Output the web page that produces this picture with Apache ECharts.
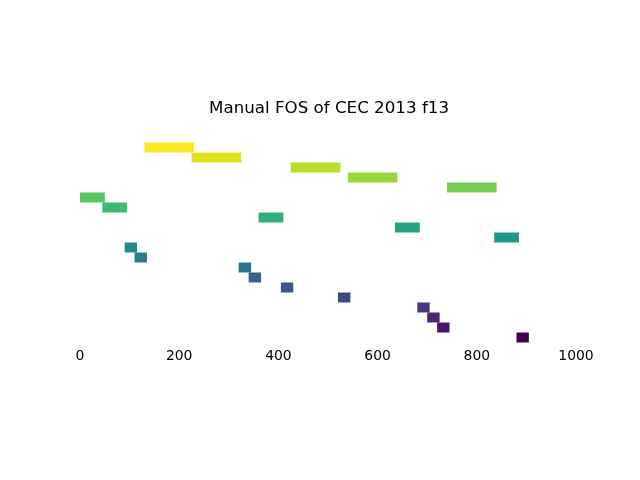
<!DOCTYPE html>
<html>
<head>
<meta charset="utf-8">
<script src="https://cdn.jsdelivr.net/npm/echarts@6/dist/echarts.min.js"></script>
<style>
  html, body { margin: 0; padding: 0; background: #fff; }
  #main { width: 640px; height: 480px; }
</style>
</head>
<body>
<div id="main"></div>
<script>
// subcomponents, sorted by size (100, 50, 25) then by start
var starts = [130, 225, 425, 540, 740, 0, 45, 360, 635, 835, 90, 110, 320, 340, 405, 520, 680, 700, 720, 880];
var sizes = [100, 100, 100, 100, 100, 50, 50, 50, 50, 50, 25, 25, 25, 25, 25, 25, 25, 25, 25, 25];
var xTicks = [0, 200, 400, 600, 800, 1000];

// viridis, top row to bottom row
var colors = ['#fde725', '#dde318', '#bade28', '#98d83e', '#73cf55', '#58c565', '#3dba74', '#2db07d',
  '#24a386', '#20978b', '#23898e', '#287c8e', '#2d718e', '#33638d', '#3a548c', '#3f4788',
  '#453781', '#482677', '#481668', '#440154'];

var rows = [];
var data = [];
for (var i = 0; i < starts.length; i++) {
  rows.push(String(i));
  data.push({ value: [starts[i], starts[i] + sizes[i], i], itemStyle: { color: colors[i] } });
}

var myChart = echarts.init(document.getElementById('main'));
myChart.setOption({
  animation: false,
  title: {
    text: 'Manual FOS of CEC 2013 f13',
    left: 324,
    textAlign: 'center',
    top: 95,
    textStyle: { fontFamily: 'DejaVu Sans', fontSize: 16.7, fontWeight: 'normal', color: '#000' }
  },
  grid: { left: 80, right: 64, top: 142.5, height: 200 },
  xAxis: {
    type: 'value',
    min: 0,
    max: 1000,
    interval: 200,
    axisLine: { show: false },
    axisTick: { show: false },
    splitLine: { show: false },
    axisLabel: {
      margin: 7,
      fontFamily: 'DejaVu Sans',
      fontSize: 13.9,
      color: '#000',
      formatter: function (v) { return xTicks.indexOf(v) >= 0 ? String(v) : ''; }
    }
  },
  yAxis: {
    type: 'category',
    data: rows,
    inverse: true,
    show: false
  },
  series: [{
    type: 'custom',
    renderItem: function (params, api) {
      var p0 = api.coord([api.value(0), api.value(2)]);
      var p1 = api.coord([api.value(1), api.value(2)]);
      var h = api.size([0, 1])[1];
      return {
        type: 'rect',
        shape: { x: p0[0], y: p0[1] - h / 2, width: p1[0] - p0[0], height: h },
        style: { fill: api.visual('color') }
      };
    },
    encode: { x: [0, 1], y: 2 },
    data: data
  }]
});
</script>
</body>
</html>
